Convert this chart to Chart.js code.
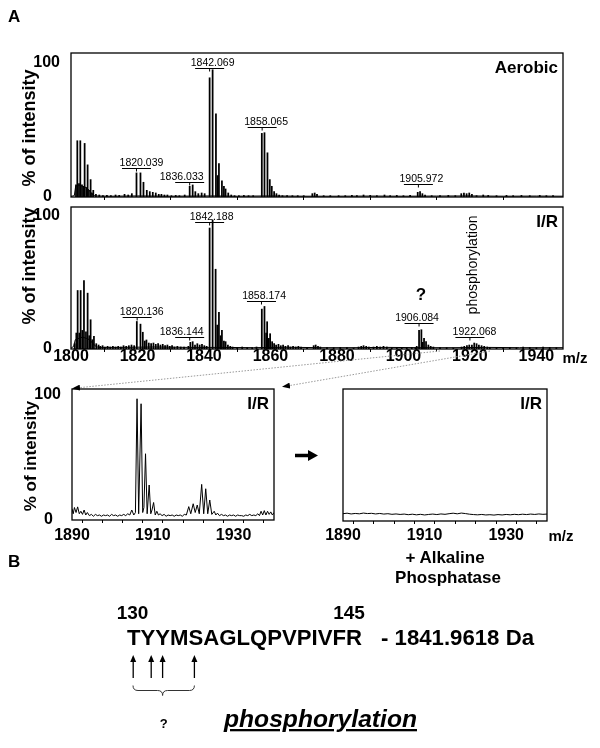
<!DOCTYPE html>
<html>
<head>
<meta charset="utf-8">
<script src="https://cdn.jsdelivr.net/npm/chart.js@4.4.1/dist/chart.umd.min.js"></script>
<style>
  html, body { margin: 0; padding: 0; background: #fff; }
  #page { position: relative; width: 600px; height: 748px; overflow: hidden; }
  #page canvas, #page svg { position: absolute; left: 0; top: 0; }
  svg text { font-family: "Liberation Sans", Arial, Helvetica, sans-serif; fill: #000; }
</style>
</head>
<body>
<div id="page">
  <canvas id="aerobic" width="600" height="748"></canvas>
  <canvas id="ir" width="600" height="748"></canvas>
  <canvas id="irZoom" width="600" height="748"></canvas>
  <canvas id="apZoom" width="600" height="748"></canvas>
  <svg width="600" height="748" viewBox="0 0 600 748">
    <defs>
      <marker id="tip" markerWidth="8" markerHeight="6" refX="7" refY="3" orient="auto" markerUnits="userSpaceOnUse">
        <path d="M0,0 L8,3 L0,6 z" fill="#000"/>
      </marker>
    </defs>
    <text x="8" y="22" font-size="17" font-weight="bold">A</text>
    <text transform="translate(28.7,128) rotate(-90)" text-anchor="middle" dominant-baseline="central" font-size="18" font-weight="bold">% of intensity</text>
    <text transform="translate(28.7,266) rotate(-90)" text-anchor="middle" dominant-baseline="central" font-size="18" font-weight="bold">% of intensity</text>
    <text transform="translate(30,456) rotate(-90)" text-anchor="middle" dominant-baseline="central" font-size="17" font-weight="bold">% of intensity</text>
    <text x="575" y="363" text-anchor="middle" font-size="15" font-weight="bold">m/z</text>
    <text x="561" y="541" text-anchor="middle" font-size="15" font-weight="bold">m/z</text>
    <text x="445" y="563" text-anchor="middle" font-size="17" font-weight="bold">+ Alkaline</text>
    <text x="448" y="583" text-anchor="middle" font-size="17" font-weight="bold">Phosphatase</text>

    <!-- zoom guides -->
    <line x1="440" y1="351" x2="73" y2="388.3" stroke="#999" stroke-width="1" stroke-dasharray="1.5 1.5" marker-end="url(#tip)"/>
    <line x1="490" y1="351" x2="283" y2="386.7" stroke="#999" stroke-width="1" stroke-dasharray="1.5 1.5" marker-end="url(#tip)"/>
    <line x1="295" y1="455.5" x2="309" y2="455.5" stroke="#000" stroke-width="3.5"/>
    <polygon points="308,450 318,455.5 308,461" fill="#000"/>

    <!-- part B -->
    <text x="8" y="567" font-size="17" font-weight="bold">B</text>
    <text x="132.5" y="619" text-anchor="middle" font-size="19" font-weight="bold">130</text>
    <text x="349" y="619" text-anchor="middle" font-size="19" font-weight="bold">145</text>
    <text x="127" y="645" font-size="22" font-weight="bold" textLength="235" lengthAdjust="spacingAndGlyphs">TYYMSAGLQPVPIVFR</text>
    <text x="381" y="645" font-size="22" font-weight="bold" textLength="153" lengthAdjust="spacingAndGlyphs">- 1841.9618 Da</text>
    <g stroke="#000" stroke-width="1.3">
      <line x1="133.2" y1="678" x2="133.2" y2="661"/>
      <line x1="151.2" y1="678" x2="151.2" y2="661"/>
      <line x1="162.6" y1="678" x2="162.6" y2="661"/>
      <line x1="194.4" y1="678" x2="194.4" y2="661"/>
    </g>
    <g fill="#000">
      <polygon points="130.2,662 133.2,655 136.2,662"/>
      <polygon points="148.2,662 151.2,655 154.2,662"/>
      <polygon points="159.6,662 162.6,655 165.6,662"/>
      <polygon points="191.4,662 194.4,655 197.4,662"/>
    </g>
    <path d="M133,685.5 Q133,690.5 138,690.5 L157.6,690.5 Q162.6,690.5 162.6,695.5 Q162.6,690.5 167.6,690.5 L189.4,690.5 Q194.4,690.5 194.4,685.5" fill="none" stroke="#333" stroke-width="1"/>
    <text x="163.8" y="728" text-anchor="middle" font-size="13" font-weight="bold">?</text>
    <text x="320.5" y="727" text-anchor="middle" font-size="23" font-weight="bold" font-style="italic" text-decoration="underline" textLength="193" lengthAdjust="spacingAndGlyphs">phosphorylation</text>
  </svg>
</div>
<script>
const FONT = '"Liberation Sans", Arial, Helvetica, sans-serif';

// ---------- axes ----------
const mainTicks = [1800, 1820, 1840, 1860, 1880, 1900, 1920, 1940];
const zoomTicks = [1890, 1895, 1900, 1905, 1910, 1915, 1920, 1925, 1930, 1935, 1940];
const zoomTickLabels = [1890, 1910, 1930];
const intensityTicks = [0, 100];

// ---------- Aerobic spectrum: [m/z, % intensity] ----------
const aerobicPeaks = [
  [1801.5, 9], [1801.9, 42], [1802.4, 10], [1802.8, 42], [1803.3, 9], [1803.7, 8], [1804.1, 40],
  [1804.6, 7], [1805.0, 24], [1805.4, 5], [1805.9, 13], [1806.3, 3], [1806.7, 5], [1807.5, 2],
  [1808.5, 1.5], [1809.6, 1], [1810.8, 1.2], [1812.0, 1], [1813.4, 1.5], [1814.5, 1.2], [1816.1, 2],
  [1817.2, 1.5], [1818.3, 2.5],
  [1819.7, 18], [1820.9, 18], [1821.8, 11], [1822.8, 5], [1823.7, 4], [1824.6, 3.5], [1825.5, 3],
  [1826.4, 2], [1827.2, 2], [1828.1, 1.5], [1829.0, 1.5], [1830.2, 1], [1831.5, 1.2], [1832.6, 1],
  [1834.2, 1.5], [1835.7, 8], [1836.6, 9], [1837.4, 4], [1838.3, 2.5], [1839.3, 3], [1840.2, 2.5],
  [1841.7, 89], [1842.6, 95], [1843.6, 62], [1844.1, 16], [1844.5, 25], [1845.4, 12], [1846.0, 8],
  [1846.5, 6], [1847.3, 3], [1848.2, 1.5], [1849.2, 1],
  [1850.5, 1], [1852.0, 1.2], [1853.4, 1], [1854.8, 1],
  [1857.4, 47.5], [1858.2, 48], [1859.1, 33], [1859.8, 13], [1860.4, 8], [1861.1, 4], [1861.8, 2.5],
  [1862.6, 1.5], [1863.6, 1],
  [1865.0, 1], [1866.6, 1], [1868.2, 1], [1870.0, 1], [1872.6, 2.5], [1873.3, 3], [1874.0, 2],
  [1876.0, 1], [1878.0, 1], [1880.5, 1], [1882.5, 1], [1884.5, 1.2], [1886.0, 1], [1888.0, 1.5],
  [1890.0, 1.2], [1892.0, 1], [1894.3, 1.5], [1896.0, 1], [1898.0, 1.2], [1900.0, 1], [1902.0, 1.2],
  [1904.3, 3.5], [1905.0, 4], [1905.7, 2.5], [1906.5, 1.5],
  [1908.5, 1], [1911.0, 1], [1913.5, 1.2], [1915.6, 1], [1917.4, 2.5], [1918.2, 3], [1919.0, 2.5],
  [1919.8, 3], [1920.6, 2], [1922.0, 1], [1924.0, 1.5], [1925.5, 1.2], [1928.0, 1], [1931.0, 1.2],
  [1933.0, 1], [1935.5, 1.2], [1938.0, 1], [1941.0, 1.2], [1943.0, 1], [1945.0, 1]
];
const aerobicBaseline = [
  [1800, 0.5], [1801.0, 1], [1801.4, 8], [1802.4, 9], [1803.5, 8], [1804.6, 7], [1805.5, 5],
  [1806.4, 2], [1807.2, 0.8], [1812, 0.6], [1820, 0.8], [1830, 0.6], [1842, 0.8], [1850, 0.6],
  [1860, 0.8], [1870, 0.6], [1880, 0.6], [1890, 0.7], [1900, 0.6], [1910, 0.7], [1920, 0.8],
  [1930, 0.6], [1940, 0.7], [1948, 0.6]
];

// ---------- I/R spectrum ----------
const irPeaks = [
  [1801.1, 4], [1801.6, 12], [1802.0, 44], [1802.5, 12], [1802.9, 44], [1803.4, 14], [1803.9, 51.5],
  [1804.5, 13], [1805.0, 42], [1805.5, 10], [1805.9, 22], [1806.4, 7], [1806.9, 9.5], [1807.6, 4],
  [1808.3, 3],
  [1808.8, 2], [1809.5, 2.5], [1810.2, 1.5], [1811.0, 2], [1811.8, 1.5], [1812.6, 2], [1813.4, 1.5],
  [1814.2, 2], [1815.0, 1.5], [1815.8, 2.5], [1816.6, 2], [1817.4, 2.5], [1818.2, 3], [1819.0, 2.5],
  [1819.8, 20.7], [1820.9, 18.7], [1821.6, 12.6], [1822.2, 6], [1822.7, 6.8], [1823.4, 4.5],
  [1824.1, 4], [1824.8, 4.5], [1825.5, 3.5], [1826.2, 4], [1826.9, 3], [1827.6, 3.5], [1828.3, 2.5],
  [1829.0, 3], [1829.7, 2], [1830.4, 2.5], [1831.1, 1.5], [1832.0, 2], [1833.0, 1.5], [1834.0, 1.5],
  [1835.3, 2], [1835.9, 5], [1836.6, 5.5], [1837.3, 3], [1838.0, 4], [1838.7, 3], [1839.4, 3.5],
  [1840.1, 2.5], [1840.8, 2],
  [1841.7, 91], [1842.6, 97], [1843.5, 60], [1844.0, 18], [1844.5, 27.5], [1845.0, 10], [1845.4, 14],
  [1846.0, 6], [1846.5, 5.5], [1847.2, 3], [1847.9, 2], [1848.6, 1.5],
  [1850.0, 1], [1851.5, 1.5], [1853.0, 1], [1854.5, 1], [1855.8, 1.5],
  [1857.4, 30], [1858.2, 32], [1858.7, 12], [1859.0, 20.5], [1859.5, 8], [1859.9, 11.5], [1860.5, 5.5],
  [1861.1, 4], [1861.7, 3], [1862.4, 3.5], [1863.1, 2.5], [1863.8, 3], [1864.5, 2], [1865.3, 2.5],
  [1866.0, 1.5], [1866.8, 2], [1867.6, 1.5], [1868.4, 2], [1869.2, 1.5],
  [1871.0, 1], [1873.0, 2.5], [1873.6, 3], [1874.3, 2], [1875.0, 1.5], [1877.0, 1], [1879.0, 1],
  [1881.0, 1.2], [1883.0, 1], [1885.0, 1], [1886.5, 1.5], [1887.3, 2], [1888.0, 2.5], [1888.8, 2],
  [1889.6, 1.5], [1891.0, 1.5], [1892.0, 2], [1893.0, 1.5], [1894.0, 2], [1895.0, 1.5], [1896.5, 1],
  [1898.0, 1], [1899.5, 1.2], [1901.0, 1], [1902.5, 1.2], [1903.6, 1],
  [1904.0, 2], [1904.7, 14], [1905.4, 14.5], [1905.8, 5], [1906.2, 8], [1906.8, 5.5], [1907.5, 3],
  [1908.2, 2], [1909.0, 1.5], [1911.0, 1], [1913.0, 1], [1915.0, 1],
  [1917.5, 1.5], [1918.3, 2], [1919.1, 2.5], [1919.8, 3], [1920.6, 3], [1921.3, 4.5], [1922.0, 4],
  [1922.7, 3], [1923.5, 2.5], [1924.3, 2], [1925.2, 1.5], [1926.0, 1.2],
  [1928.0, 1], [1930.0, 1], [1932.0, 1.2], [1934.0, 1], [1936.0, 1.5], [1938.0, 1.2], [1940.0, 1],
  [1942.0, 1.5], [1944.0, 1.2], [1946.0, 1]
];
const irBaseline = [
  [1800, 0.6], [1800.8, 2], [1801.3, 7], [1802.4, 8], [1803.5, 9], [1804.6, 8], [1805.6, 7],
  [1806.6, 4], [1807.5, 2], [1808.2, 1.2], [1815, 1.2], [1825, 1.5], [1835, 1.2], [1845, 1.2],
  [1855, 1], [1865, 1.3], [1875, 1], [1885, 1], [1895, 1.2], [1905, 1], [1915, 1], [1925, 1.2],
  [1935, 1], [1948, 1]
];

// ---------- I/R, 1890-1940 enlarged ----------
const irZoomTrace = [
  [1890.0, 9], [1890.3, 5], [1890.6, 10], [1891.0, 6], [1891.4, 10.5], [1891.8, 5], [1892.2, 7],
  [1892.6, 4.5], [1893.0, 8], [1893.4, 4], [1893.8, 6], [1894.3, 3.5], [1894.8, 4.5], [1895.3, 3],
  [1895.8, 4.5], [1896.3, 3.5], [1896.8, 4], [1897.3, 3], [1897.8, 4], [1898.3, 3.5], [1898.8, 4],
  [1899.3, 3], [1899.8, 4.5], [1900.3, 3.5], [1900.8, 4], [1901.3, 3], [1901.8, 4], [1902.3, 3.5],
  [1902.8, 4.5], [1903.3, 3.5], [1903.8, 5], [1904.3, 4], [1904.8, 8], [1905.3, 4], [1905.7, 6],
  [1906.1, 97], [1906.5, 5], [1907.1, 93], [1907.5, 6], [1907.8, 10], [1908.2, 53], [1908.6, 5],
  [1909.1, 28], [1909.5, 5], [1909.8, 8], [1910.2, 14], [1910.6, 4], [1911.0, 7], [1911.4, 4],
  [1911.8, 5], [1912.3, 3.5], [1912.8, 4.5], [1913.3, 3], [1913.8, 4], [1914.3, 3.5], [1914.8, 4],
  [1915.3, 3], [1915.8, 4], [1916.3, 3.5], [1916.8, 4], [1917.3, 3], [1917.8, 4.5], [1918.3, 4],
  [1918.9, 10.7], [1919.4, 5], [1920.0, 13], [1920.5, 6], [1921.0, 12], [1921.5, 5], [1922.1, 28.5],
  [1922.6, 5], [1923.1, 25], [1923.6, 5], [1924.1, 16], [1924.6, 4.5], [1925.2, 7], [1925.6, 4],
  [1926.0, 5.5], [1926.5, 3.5], [1927.0, 4.5], [1927.5, 3.5], [1928.0, 4], [1928.5, 3], [1929.0, 4],
  [1929.5, 3.5], [1930.0, 4], [1930.5, 3], [1931.0, 4], [1931.5, 3.5], [1932.0, 3.5], [1932.5, 3],
  [1933.0, 4], [1933.5, 3.5], [1934.0, 4.5], [1934.5, 3.5], [1935.0, 4], [1935.5, 3.5], [1936.0, 5],
  [1936.4, 3.5], [1936.8, 7], [1937.2, 4], [1937.6, 7.5], [1938.0, 4], [1938.4, 7], [1938.8, 4.5],
  [1939.2, 6.5], [1939.6, 4], [1940.0, 6]
];

// ---------- I/R + alkaline phosphatase, 1890-1940 ----------
const phosphataseTrace = [
  [1890, 5.8], [1891, 6.2], [1892, 5.6], [1893, 6.0], [1894, 5.7], [1895, 6.3], [1896, 5.9],
  [1897, 6.1], [1898, 5.6], [1899, 6.0], [1900, 5.5], [1901, 5.8], [1902, 5.3], [1903, 5.6],
  [1904, 5.2], [1905, 5.5], [1906, 5.0], [1907, 5.4], [1908, 4.9], [1909, 5.3], [1910, 4.8],
  [1911, 5.2], [1912, 5.5], [1913, 5.1], [1914, 5.6], [1915, 5.3], [1916, 5.8], [1917, 6.2],
  [1918, 5.7], [1919, 6.3], [1920, 5.9], [1921, 5.4], [1922, 5.1], [1923, 4.9], [1924, 5.2],
  [1925, 4.8], [1926, 5.0], [1927, 4.7], [1928, 5.1], [1929, 4.8], [1930, 5.2], [1931, 4.9],
  [1932, 5.3], [1933, 5.0], [1934, 5.4], [1935, 5.1], [1936, 5.5], [1937, 5.2], [1938, 5.6],
  [1939, 5.3], [1940, 5.5]
];

// ---------- peak annotations (m/z of the marked peak, % height of the bracket) ----------
const aerobicNotes = [
  { text: '1820.039', mz: 1819.7, pct: 21.4, dx: 5 },
  { text: '1836.033', mz: 1835.7, pct: 11.4, dx: -8 },
  { text: '1842.069', mz: 1841.7, pct: 96, dx: 3 },
  { text: '1858.065', mz: 1857.5, pct: 52.5, dx: 4 },
  { text: '1905.972', mz: 1904.5, pct: 9.5, dx: 3 }
];
const irNotes = [
  { text: '1820.136', mz: 1819.9, pct: 23.8, dx: 4.6 },
  { text: '1836.144', mz: 1835.7, pct: 9.2, dx: -8 },
  { text: '1842.188', mz: 1841.7, pct: 95.7, dx: 2 },
  { text: '1858.174', mz: 1857.3, pct: 36.1, dx: 2.6 },
  { text: '1906.084', mz: 1904.7, pct: 19.3, dx: -2 },
  { text: '1922.068', mz: 1920.0, pct: 9.2, dx: 4.6 }
];
const irExtras = [
  { text: '?', mz: 1905.3, pct: 40.6, font: 'bold 17px', rot: 0 },
  { text: 'phosphorylation', mz: 1921.0, pct: 63.2, font: '14px', rot: -Math.PI / 2 }
];

const toXY = pairs => pairs.map(([x, y]) => ({ x, y }));

const panelPlugin = {
  id: 'panel',
  afterDraw(chart, args, o) {
    const { ctx, chartArea: a, scales: { x, y } } = chart;
    ctx.save();
    ctx.strokeStyle = '#000';
    ctx.lineWidth = 1.3;
    ctx.strokeRect(a.left, a.top, a.right - a.left, a.bottom - a.top);
    ctx.fillStyle = '#000';
    ctx.font = 'bold 17px ' + FONT;
    ctx.textAlign = 'right';
    ctx.textBaseline = 'middle';
    ctx.fillText(o.tag, a.right - 5, a.top + 15);

    ctx.lineWidth = 1;
    ctx.font = '10.5px ' + FONT;
    ctx.textAlign = 'center';
    ctx.textBaseline = 'alphabetic';
    (o.notes || []).forEach(n => {
      const px = x.getPixelForValue(n.mz), py = Math.round(y.getPixelForValue(n.pct)) + 0.5;
      ctx.beginPath();
      ctx.moveTo(px - 14.5, py); ctx.lineTo(px + 14.5, py);
      ctx.moveTo(px, py); ctx.lineTo(px, py + 3);
      ctx.stroke();
      ctx.fillText(n.text, px + n.dx, py - 2.5);
    });
    (o.extras || []).forEach(e => {
      ctx.save();
      ctx.translate(x.getPixelForValue(e.mz), y.getPixelForValue(e.pct));
      ctx.rotate(e.rot);
      ctx.font = e.font + ' ' + FONT;
      ctx.textBaseline = 'middle';
      ctx.fillText(e.text, 0, 0);
      ctx.restore();
    });
    ctx.restore();
  }
};

const AXIS_H = 40;   // room under the plot for the m/z tick labels

function spectrum(id, box, s) {
  const datasets = [];
  if (s.peaks) datasets.push({
    type: 'bar', data: toXY(s.peaks), backgroundColor: '#000', borderWidth: 0,
    barThickness: 1.1, grouped: false
  });
  datasets.push({
    type: 'line', data: toXY(s.line), borderColor: '#000', borderWidth: 1,
    pointRadius: 0, tension: 0, fill: false
  });
  return new Chart(document.getElementById(id), {
    type: 'bar',
    data: { datasets },
    plugins: [panelPlugin],
    options: {
      responsive: false, animation: false, devicePixelRatio: 1,
      layout: { padding: { left: 0, top: box.t, right: 600 - box.r, bottom: 748 - box.b - AXIS_H } },
      plugins: { legend: { display: false }, tooltip: { enabled: false },
                 panel: { tag: s.tag, notes: s.notes, extras: s.extras } },
      scales: {
        x: {
          type: 'linear', min: s.xMin, max: s.xMax, offset: false,
          afterFit(sc) { sc.height = AXIS_H; },
          afterBuildTicks(sc) { sc.ticks = s.ticks.map(v => ({ value: v })); },
          grid: { display: true, drawOnChartArea: false, drawTicks: true, tickLength: 3, color: '#000' },
          border: { display: false },
          ticks: {
            display: s.showX, color: '#000', padding: s.xPad, maxRotation: 0, autoSkip: false,
            font: { family: FONT, size: 16, weight: 'bold', lineHeight: 1 },
            callback: v => (s.labels.includes(v) ? String(v) : '')
          }
        },
        y: {
          min: 0, max: s.yMax,
          afterFit(sc) { sc.width = box.l; },
          afterBuildTicks(sc) { sc.ticks = intensityTicks.map(v => ({ value: v })); },
          grid: { display: false }, border: { display: false },
          ticks: {
            display: s.showY, color: '#000', padding: 3,
            font: { family: FONT, size: 16, weight: 'bold', lineHeight: 1 },
            // the zero sits a little further left than the 100 in the original
            callback: v => (v === 0 ? '0\u2002' : String(v))
          }
        }
      }
    }
  });
}

spectrum('aerobic', { l: 71, t: 53, r: 563, b: 197 }, {
  peaks: aerobicPeaks, line: aerobicBaseline, xMin: 1800, xMax: 1948, yMax: 107.5,
  ticks: mainTicks, labels: [], showX: false, xPad: 0, showY: true,
  tag: 'Aerobic', notes: aerobicNotes
});
spectrum('ir', { l: 71, t: 207, r: 563, b: 349 }, {
  peaks: irPeaks, line: irBaseline, xMin: 1800, xMax: 1948, yMax: 106.8,
  ticks: mainTicks, labels: mainTicks, showX: true, xPad: -3, showY: true,
  tag: 'I/R', notes: irNotes, extras: irExtras
});
spectrum('irZoom', { l: 72, t: 389, r: 274, b: 520 }, {
  line: irZoomTrace, xMin: 1890, xMax: 1940, yMax: 104.8,
  ticks: zoomTicks, labels: zoomTickLabels, showX: true, xPad: 5, showY: true,
  tag: 'I/R'
});
spectrum('apZoom', { l: 343, t: 389, r: 547, b: 521 }, {
  line: phosphataseTrace, xMin: 1890, xMax: 1940, yMax: 104.8,
  ticks: zoomTicks, labels: zoomTickLabels, showX: true, xPad: 4, showY: false,
  tag: 'I/R'
});
</script>
</body>
</html>
